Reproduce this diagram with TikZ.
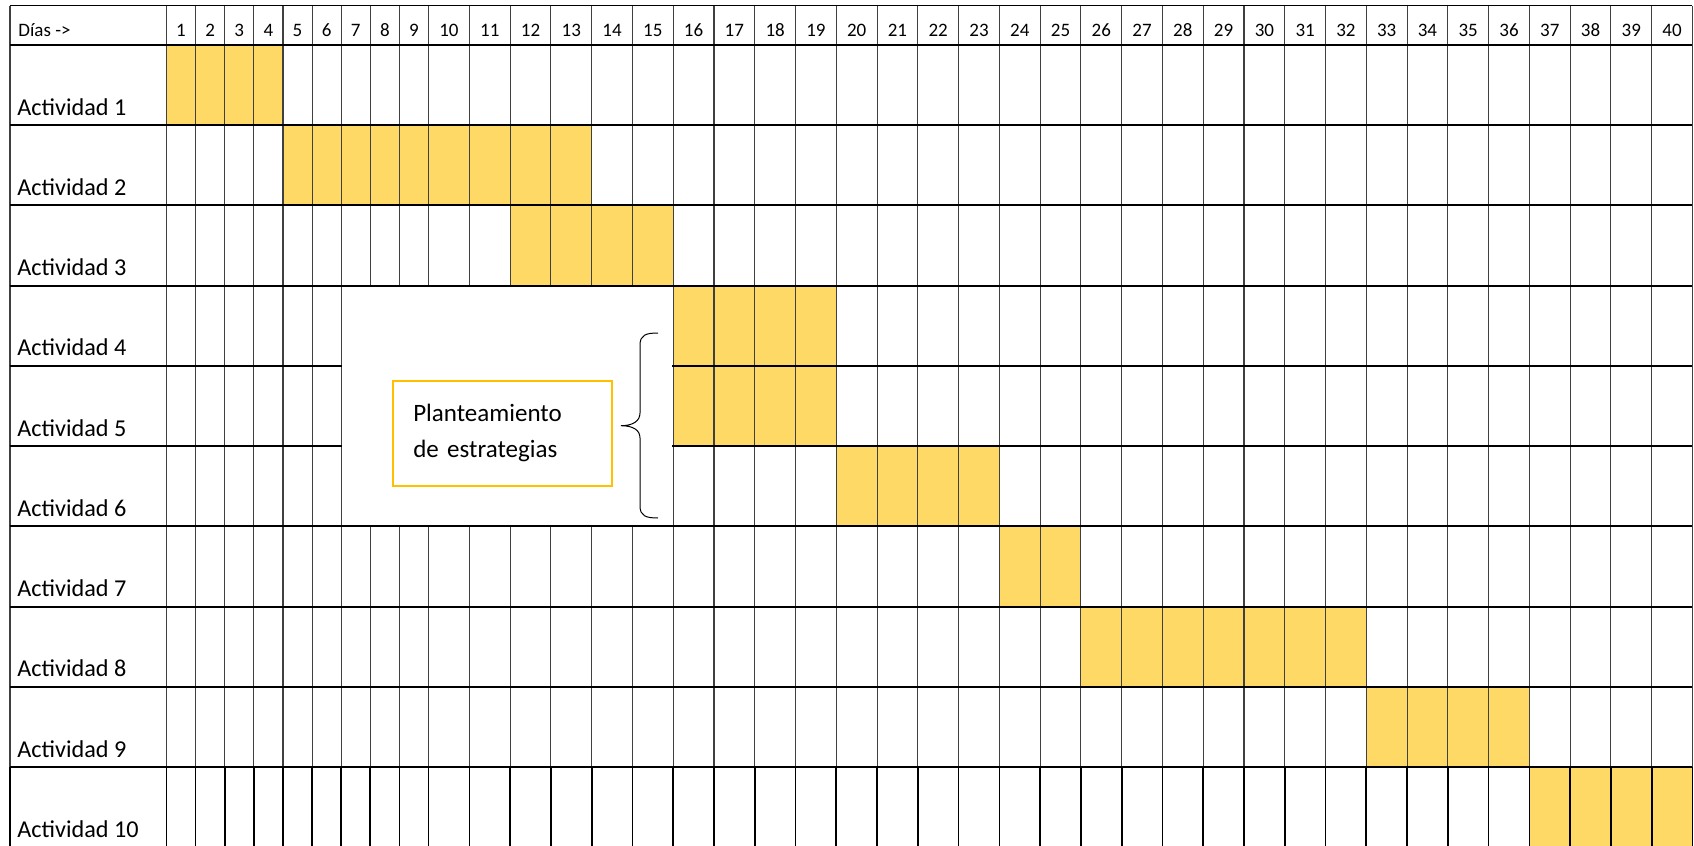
\documentclass[tikz,border=0pt]{standalone}
\usepackage{fontspec}
\setmainfont{Carlito}
\definecolor{barfill}{HTML}{FFD966}
\definecolor{boxgold}{HTML}{FFC000}
\definecolor{gridgray}{HTML}{404040}

\begin{document}
\begin{tikzpicture}[
    x=0.5pt, y=-0.5pt,
    declare function={colx(\i)=(\i<10)*(166.5+(\i-1)*29.12)+(\i>=10)*(428.6+(\i-10)*40.77); rowy(\r)=44.75+(\r-1)*80.25;},
    rowline/.style={black, line width=1pt},
    colline/.style={gridgray, line width=0.55pt},
    lastcol/.style={black, line width=0.85pt},
    bar/.style={fill=barfill},
    daylabel/.style={anchor=base, inner sep=0pt, font=\fontsize{9.5}{11}\selectfont},
    actlabel/.style={anchor=base west, inner sep=0pt, font=\fontsize{12.1}{14}\selectfont},
    notebox/.style={draw=boxgold, line width=1pt, fill=white, text width=89.2pt, inner sep=10pt, minimum height=52.7pt, align=left, font=\fontsize{12.5}{18}\selectfont},
    llave/.style={black, line width=0.5pt}
]
\clip (0,0) rectangle (1694,846);

% barras
\foreach \r/\a/\b in {1/1/4, 2/5/13, 3/12/15, 4/16/19, 5/16/19, 6/20/23, 7/24/25, 8/26/32, 9/33/36, 10/37/40}
    \fill[bar] ({colx(\a)},{rowy(\r)}) rectangle ({colx(\b+1)},{rowy(\r+1)});

% rejilla
\foreach \c in {1,...,41} {
    \draw[colline] ({colx(\c)},5.7) -- ({colx(\c)},{rowy(10)});
    \draw[lastcol] ({colx(\c)},{rowy(10)}) -- ({colx(\c)},846);
}
\draw[colline] (10,5.7) -- (10,{rowy(10)});
\draw[lastcol] (10,{rowy(10)}) -- (10,846);
\draw[black, line width=0.55pt] (10,5.7) -- ({colx(41)},5.7);
\foreach \r in {1,...,10}
    \draw[rowline] (10,{rowy(\r)}) -- ({colx(41)},{rowy(\r)});

% hueco blanco
\fill[white] ({colx(7)+0.8},{rowy(4)+1}) rectangle ({colx(16)-0.8},{rowy(7)-1});

% textos
\node[daylabel, anchor=base west] (dias) at (18,36.5) {Días ->};
\foreach \d in {1,...,40}
    \node[daylabel] (d\d) at ({(colx(\d)+colx(\d+1))/2},36.5) {\d};
\foreach \r in {1,...,10}
    \node[actlabel] (act\r) at (17,{rowy(\r+1)-10}) {Actividad \r};

\node[notebox] (plan) at (502.5,433.3) {Planteamiento\\de estrategias};

% llave
\coordinate (llavearriba) at (658,333);
\coordinate (llavepunta) at (621,425.7);
\coordinate (llaveabajo) at (658,518);
\draw[llave] (llavearriba) .. controls (646,333) and (640,335) .. (640,345)
    -- (640,413) .. controls (640,421) and (633,425.7) .. (llavepunta)
    .. controls (633,425.7) and (640,430) .. (640,438)
    -- (640,506) .. controls (640,516) and (646,518) .. (llaveabajo);

\end{tikzpicture}
\end{document}
